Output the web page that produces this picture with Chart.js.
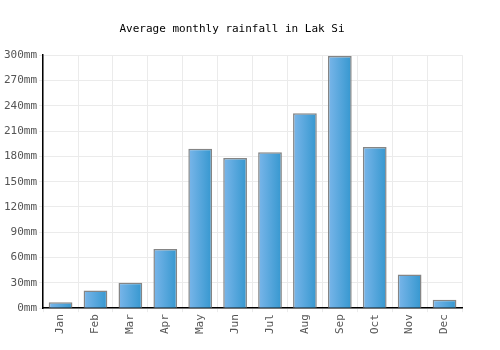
<!DOCTYPE html>
<html>
<head>
<meta charset="utf-8">
<script src="https://cdn.jsdelivr.net/npm/chart.js@4"></script>
<style>
  body { margin: 0; background: #fff; }
  #wrap { width: 500px; height: 350px; }
</style>
</head>
<body>
<div id="wrap"><canvas id="rainChart" width="500" height="350"></canvas></div>
<script>
const months = ['Jan', 'Feb', 'Mar', 'Apr', 'May', 'Jun', 'Jul', 'Aug', 'Sep', 'Oct', 'Nov', 'Dec'];
const rainfall = [7, 21, 30, 70, 189, 178, 185, 231, 299, 191, 40, 10];
const yTicks = [0, 30, 60, 90, 120, 150, 180, 210, 240, 270, 300];

const monoFont = "'DejaVu Sans Mono', 'Liberation Mono', monospace";
const barPct = 0.68;

// horizontal gradient on each bar, light on the left, darker on the right
function barFill(context) {
    const chart = context.chart;
    const x = chart.scales.x;
    if (!chart.chartArea || !x || context.dataIndex === undefined) return '#5aa8de';
    const center = x.getPixelForValue(context.dataIndex);
    const half = (x.width / months.length) * barPct / 2;
    const g = chart.ctx.createLinearGradient(center - half, 0, center + half, 0);
    g.addColorStop(0, '#7ab6ea');
    g.addColorStop(1, '#3597cf');
    return g;
}

new Chart(document.getElementById('rainChart'), {
    type: 'bar',
    data: {
        labels: months,
        datasets: [{
            label: 'Rainfall',
            data: rainfall,
            backgroundColor: barFill,
            borderColor: '#858585',
            borderWidth: 1.5,
            borderSkipped: 'bottom',
            barPercentage: barPct,
            categoryPercentage: 1
        }]
    },
    options: {
        responsive: false,
        animation: false,
        layout: { padding: { left: 2, right: 38, top: 0, bottom: 14 } },
        plugins: {
            legend: { display: false },
            tooltip: { enabled: false },
            title: {
                display: true,
                text: 'Average monthly rainfall in Lak Si',
                color: '#000',
                font: { family: monoFont, size: 11, weight: 'normal' },
                padding: { top: 23, bottom: 19 }
            }
        },
        scales: {
            x: {
                grid: { color: '#ebebeb', offset: true, tickLength: 4 },
                border: { color: '#000', width: 1.5 },
                ticks: {
                    color: '#555',
                    font: { family: monoFont, size: 11 },
                    minRotation: 90,
                    maxRotation: 90,
                    padding: 2
                }
            },
            y: {
                min: 0,
                max: 300,
                afterBuildTicks(axis) {
                    axis.ticks = yTicks.map(v => ({ value: v }));
                },
                grid: { color: '#ebebeb', tickLength: 4 },
                border: { color: '#000', width: 1.5 },
                ticks: {
                    color: '#555',
                    font: { family: monoFont, size: 11 },
                    padding: 2,
                    callback: v => v + 'mm'
                }
            }
        }
    }
});
</script>
</body>
</html>
